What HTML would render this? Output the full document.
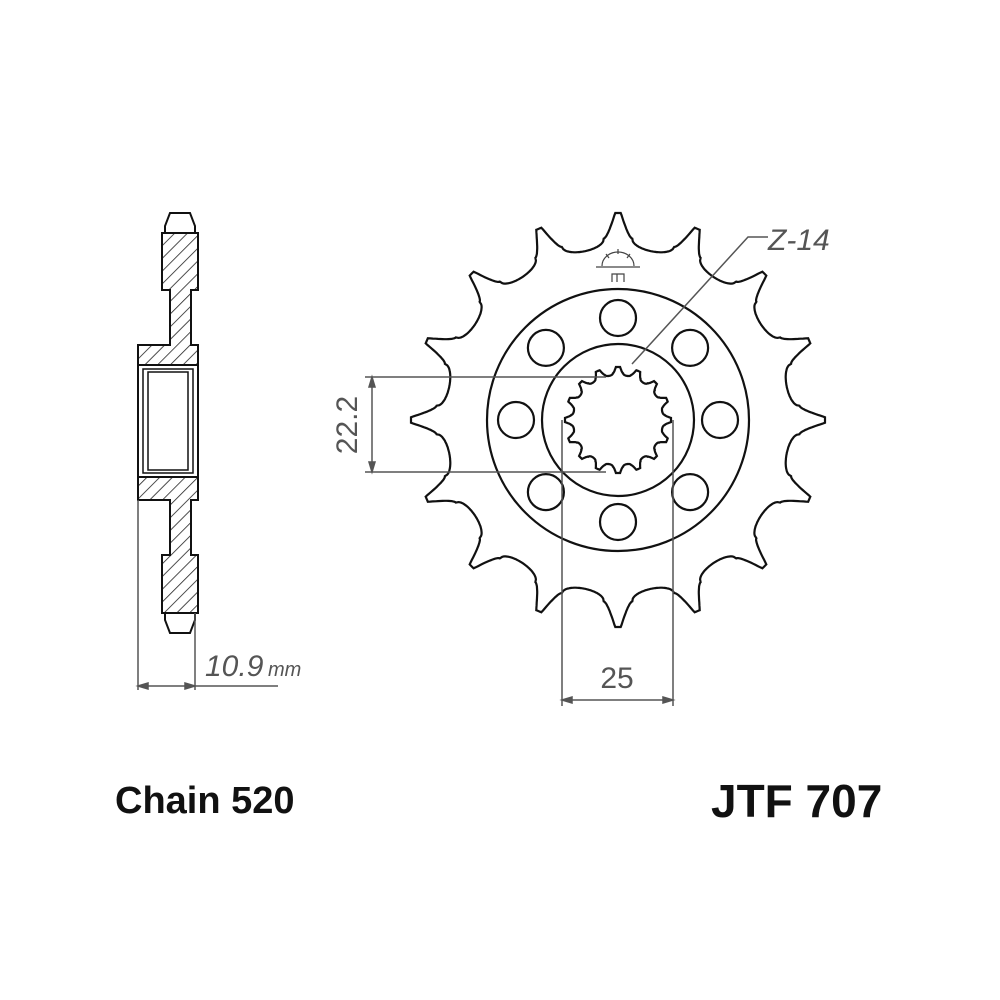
<!DOCTYPE html>
<html><head><meta charset="utf-8"><style>
html,body{margin:0;padding:0;background:#fff;}
svg{display:block;}
text{font-family:"Liberation Sans",sans-serif;}
</style></head><body>
<svg id="s" width="1000" height="1000" viewBox="0 0 1000 1000" xmlns="http://www.w3.org/2000/svg">
<defs>
<pattern id="h" patternUnits="userSpaceOnUse" width="9" height="9" patternTransform="rotate(45)">
<line x1="0" y1="0" x2="0" y2="9" stroke="#222" stroke-width="1.6"/>
</pattern>
</defs>
<rect width="1000" height="1000" fill="#fff"/>
<g stroke="#111" stroke-width="2" fill="url(#h)">
<path d="M170,213 L190,213 L195,226 L195,233 L165,233 L165,226 Z" fill="#fff"/>
<path d="M162,233 L198,233 L198,290 L191,290 L191,345 L198,345 L198,365 L138,365 L138,345 L170,345 L170,290 L162,290 Z"/>
<path d="M138,477 L198,477 L198,500 L191,500 L191,555 L198,555 L198,613 L162,613 L162,555 L170,555 L170,500 L138,500 Z"/>
<path d="M165,613 L195,613 L195,620 L190,633 L170,633 L165,620 Z" fill="#fff"/>
<rect x="138" y="365" width="60" height="112" fill="#fff"/>
<rect x="143" y="369" width="50" height="104" fill="#fff" stroke-width="1.5"/>
<rect x="148" y="372" width="40" height="98" fill="#fff" stroke-width="1.5"/>
</g>
<g stroke="#555" stroke-width="1.5" fill="none">
<line x1="138" y1="500" x2="138" y2="690"/>
<line x1="195" y1="613" x2="195" y2="690"/>
<line x1="138" y1="686" x2="278" y2="686"/>
<path d="M138,686 l10,-3 v6 z M195,686 l-10,-3 v6 z" fill="#555"/>
</g>
<text x="205" y="676" font-size="30" font-style="italic" fill="#555">10.9</text>
<text x="268" y="676" font-size="20" font-style="italic" fill="#555">mm</text>
<g fill="none" stroke="#111" stroke-width="2.2">
<path id="teeth"/>
<circle cx="618" cy="420" r="131"/>
<circle cx="618" cy="420" r="76"/>
<path id="spl"/>
<g id="holes"></g>
</g>
<g stroke="#444" stroke-width="1.2" fill="none">
<path d="M602,266 A16,14 0 0 1 634,266"/>
<line x1="596" y1="267" x2="640" y2="267"/>
<line x1="618" y1="249" x2="618" y2="254"/><line x1="606" y1="254" x2="609" y2="258"/><line x1="630" y1="254" x2="627" y2="258"/>
<path d="M612,282 v-8 h12 v8 M617,274 v8"/>
</g>
<g stroke="#555" stroke-width="1.5" fill="none">
<line x1="365" y1="377" x2="606" y2="377"/>
<line x1="365" y1="472" x2="606" y2="472"/>
<line x1="372" y1="377" x2="372" y2="472"/>
<path d="M372,377 l-3,10 h6 z M372,472 l-3,-10 h6 z" fill="#555"/>
<line x1="562" y1="420" x2="562" y2="706"/>
<line x1="673" y1="420" x2="673" y2="706"/>
<line x1="562" y1="700" x2="673" y2="700"/>
<path d="M562,700 l10,-3 v6 z M673,700 l-10,-3 v6 z" fill="#555"/>
<polyline points="632,364 748,237 768,237"/>
</g>
<text transform="translate(357,425) rotate(-90)" text-anchor="middle" font-size="30" fill="#555">22.2</text>
<text x="617" y="688" text-anchor="middle" font-size="30" fill="#555">25</text>
<text x="768" y="250" font-size="30" font-style="italic" fill="#555">Z-14</text>
<text x="115" y="813" font-size="38" font-weight="bold" fill="#111">Chain 520</text>
<text x="711" y="817" font-size="46" font-weight="bold" fill="#111">JTF 707</text>
</svg>
<script>
(function(){
var cx=618,cy=420;
function prof(n,rt,rr,off,tw,fw,dip){
 var d="",N=1440;
 for(var i=0;i<=N;i++){
  var a=i/N*2*Math.PI;
  var ph=((a-off)/(2*Math.PI)*n)%1; if(ph<0)ph+=1; if(ph>0.5)ph-=1; var p=Math.abs(ph);
  var r;
  if(p<tw) r=rt;
  else if(p<fw){ var t=(p-tw)/(fw-tw); r=rt-(rt-rr)*(1-Math.pow(1-t,1.6)); }
  else { var q=(p-fw)/(0.5-fw); r=rr-dip*Math.sqrt(Math.max(0,1-(1-q)*(1-q))); }
  var x=cx+r*Math.sin(a), y=cy-r*Math.cos(a);
  d+=(i?"L":"M")+x.toFixed(1)+","+y.toFixed(1);
 }
 return d+"Z";
}
document.getElementById("teeth").setAttribute("d",prof(16,207,182,0,0.035,0.2,10));
document.getElementById("spl").setAttribute("d",prof(16,53,47,0,0.1,0.28,2));
var g=document.getElementById("holes"),s="";
for(var k=0;k<8;k++){var a=k*Math.PI/4;s+='<circle cx="'+(cx+102*Math.sin(a)).toFixed(1)+'" cy="'+(cy-102*Math.cos(a)).toFixed(1)+'" r="18"/>';}
g.innerHTML=s;
})();
</script>
</body></html>
